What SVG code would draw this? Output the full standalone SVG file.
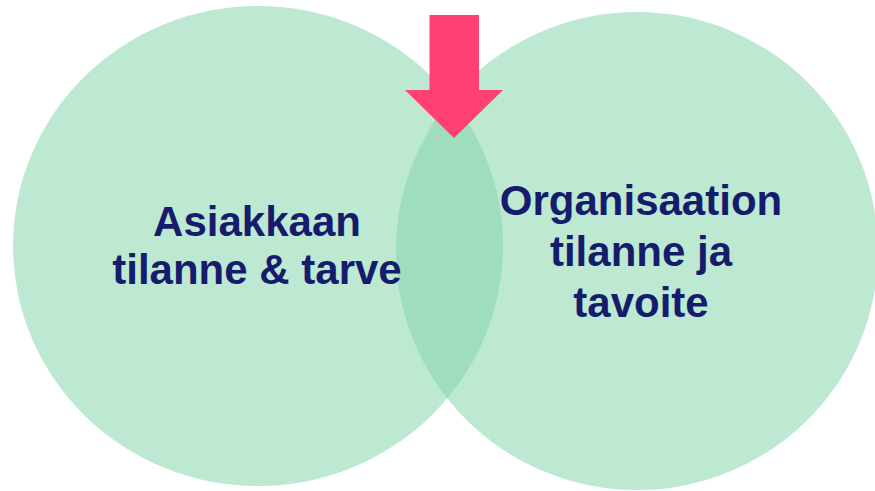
<svg xmlns="http://www.w3.org/2000/svg" width="875" height="491" viewBox="0 0 875 491">
  <style>
    .circle { fill: rgb(130,212,170); fill-opacity: 0.53; }
    .label { font-family: "Liberation Sans", Arial, sans-serif; font-weight: bold; font-size: 42px; fill: #151C6C; text-anchor: middle; }
  </style>
  <rect width="875" height="491" fill="#ffffff"/>
  <g id="customer">
    <ellipse class="circle" cx="258" cy="246" rx="245" ry="240"/>
  </g>
  <g id="organisation">
    <ellipse class="circle" cx="637" cy="251" rx="241" ry="239"/>
  </g>
  <g id="arrow">
    <polygon points="429.5,15 479,15 479,90 503,90 454,138 405,90 429.5,90" fill="#FF4070"/>
  </g>
  <g id="customer-label">
    <text class="label" x="257" y="236">Asiakkaan</text>
    <text class="label" x="257" y="284">tilanne &amp; tarve</text>
  </g>
  <g id="organisation-label">
    <text class="label" x="641" y="215">Organisaation</text>
    <text class="label" x="641" y="266">tilanne ja</text>
    <text class="label" x="641" y="317">tavoite</text>
  </g>
</svg>
